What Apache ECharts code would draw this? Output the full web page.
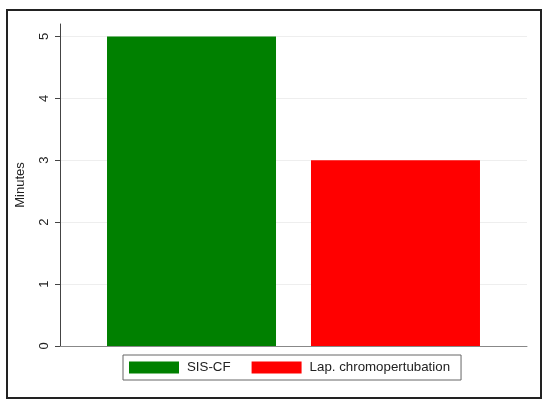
<!DOCTYPE html>
<html lang="en">
<head>
  <meta charset="UTF-8">
  <title>Minutes</title>
  <script src="https://cdn.jsdelivr.net/npm/echarts@6/dist/echarts.min.js"></script>
  <style>
    html, body { margin: 0; padding: 0; background: #fff; }
    #main { width: 550px; height: 413px; }
  </style>
</head>
<body>
<div id="main"></div>
<script>
  var groups = ['SIS-CF', 'Lap. chromopertubation'];
  var minutes = [5, 3];
  var colors = ['#008000', '#ff0000'];
  var yTicks = [0, 1, 2, 3, 4, 5];

  var myChart = echarts.init(document.getElementById('main'));

  var series = groups.map(function (g, i) {
    return {
      name: g,
      type: 'bar',
      barWidth: 169,
      barGap: '20.7%',
      itemStyle: {color: colors[i]},
      data: [minutes[i]]
    };
  });

  // split lines cycle through this list; the last one (axis top, 5.2) is hidden
  var gridColors = yTicks.map(function () { return '#eeeeee'; }).concat(['rgba(0,0,0,0)']);

  var option = {
    animation: false,
    textStyle: {fontFamily: 'Liberation Sans, Arial, sans-serif'},
    graphic: [{
      type: 'rect',
      shape: {x: 7, y: 10, width: 534, height: 388},
      style: {fill: 'none', stroke: '#222', lineWidth: 2},
      silent: true
    }],
    grid: {left: 60, right: 23, top: 24, bottom: 67},
    legend: {
      data: groups,
      left: 123,
      top: 355,
      itemWidth: 50,
      itemHeight: 12,
      itemGap: 21,
      padding: [6, 11, 6, 6],
      borderColor: '#666',
      borderWidth: 1,
      icon: 'rect',
      textStyle: {fontSize: 13.3, color: '#222', padding: [0, 0, 0, 3]}
    },
    xAxis: {
      type: 'category',
      data: [''],
      axisLine: {show: true, lineStyle: {color: '#888'}},
      axisTick: {show: false},
      axisLabel: {show: false}
    },
    yAxis: {
      type: 'value',
      min: 0,
      max: 5.2,
      interval: 1,
      name: 'Minutes',
      nameLocation: 'middle',
      nameGap: 33,
      nameRotate: 90,
      nameTextStyle: {fontSize: 13, color: '#222'},
      axisLine: {show: true, lineStyle: {color: '#444'}},
      axisTick: {show: true, length: 5, customValues: yTicks, lineStyle: {color: '#444'}},
      axisLabel: {
        rotate: 90,
        fontSize: 13,
        color: '#222',
        margin: 9,
        customValues: yTicks
      },
      splitLine: {show: true, lineStyle: {color: gridColors}}
    },
    series: series
  };

  myChart.setOption(option);
</script>
</body>
</html>
